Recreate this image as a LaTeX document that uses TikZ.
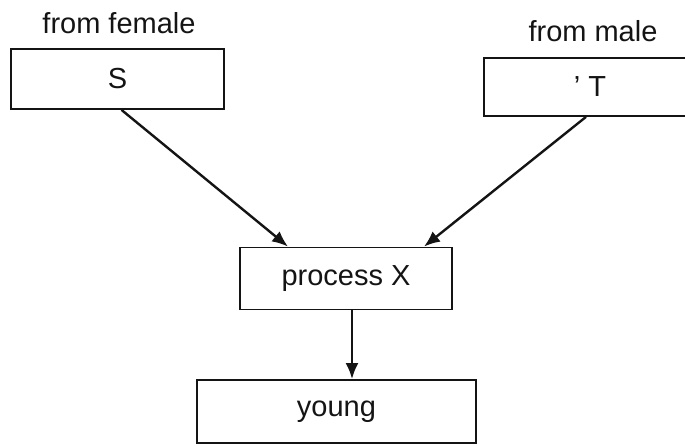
\documentclass[tikz,border=0pt]{standalone}
\usepackage{fontspec}
\setmainfont{Liberation Sans}
\usetikzlibrary{arrows.meta,positioning}
\definecolor{inkBlack}{RGB}{20, 20, 20}

\tikzset{
  boxnode/.style={draw=inkBlack, text=inkBlack, line width=1.8pt, inner sep=0pt},
  lbl/.style={text=inkBlack, inner sep=0pt},
  arr/.style={draw=inkBlack, line width=2.4pt, -{Latex[length=16pt,width=13pt]}}
}

\begin{document}
\begin{tikzpicture}[x=1pt, y=-1pt, font=\fontsize{29pt}{34pt}\selectfont]
  \useasboundingbox (0,0) rectangle (685,446);
  \clip (0,0) rectangle (685,446);
  % parents
  \node[lbl] (female) at (119,23) {from female};
  \node[lbl] (male) at (593,31) {from male};
  \node[boxnode, minimum width=213pt, minimum height=60pt] (S) at (117.5,79) {S};
  \node[boxnode, minimum width=212pt, minimum height=58pt] (T) at (590,87) {' T};
  % offspring
  \node[boxnode, minimum width=212pt, minimum height=62pt] (procX) at (346,278.5) {process X};
  \node[boxnode, minimum width=279pt, minimum height=63pt] (young) at (336.5,411.5) {young};
  % connectors
  \draw[arr] ([xshift=4pt]S.south) -- ([xshift=-58pt]procX.north);
  \draw[arr] ([xshift=-4pt]T.south) -- ([xshift=78pt]procX.north);
  \draw[arr] ([xshift=6pt]procX.south) -- ([xshift=6pt]procX.south |- young.north);
\end{tikzpicture}
\end{document}
